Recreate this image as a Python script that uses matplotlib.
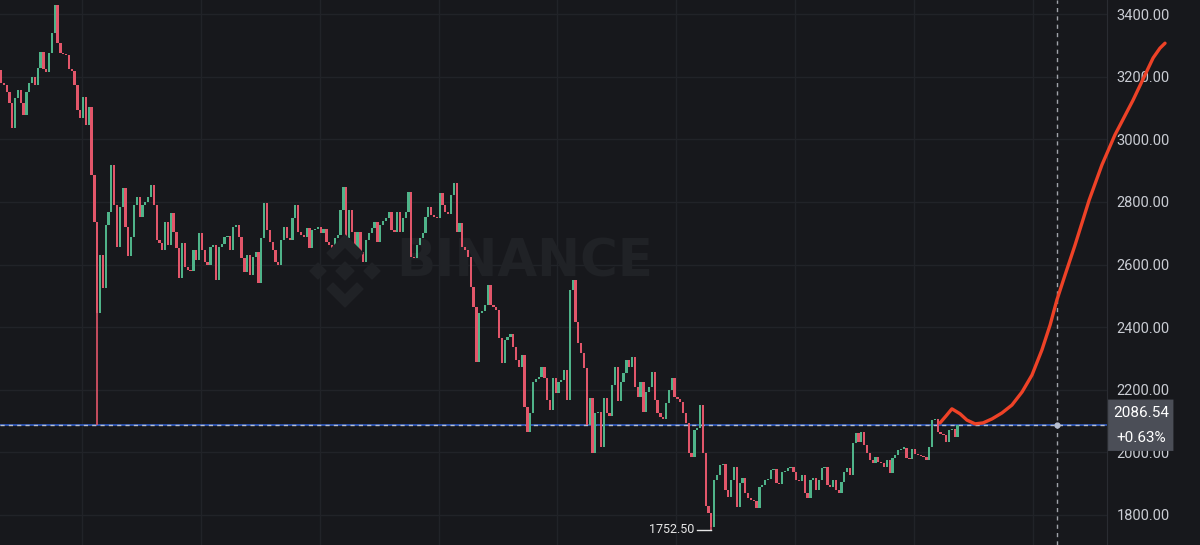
import numpy as np
import matplotlib
matplotlib.use("Agg")
import matplotlib.pyplot as plt
from matplotlib.patches import Polygon, FancyBboxPatch
from matplotlib.transforms import blended_transform_factory

# candle closes (open = previous close)
first_open = 3221
closes = [
    3180, 3173, 3151, 3116, 3036, 3132, 3157, 3116, 3077, 3151,
    3180, 3199, 3173, 3228, 3279, 3225, 3215, 3276, 3339, 3429,
    3308, 3276, 3272, 3269, 3225, 3218, 3173, 3093, 3068, 3135,
    3045, 3103, 2886, 2735, 2446,
    2630, 2525, 2726, 2768, 2918, 2790, 2656, 2784, 2844, 2720,
    2627, 2688, 2790, 2816, 2752, 2790, 2800, 2816, 2854, 2790,
    2678, 2669, 2646, 2736, 2662, 2765, 2704, 2653, 2557, 2669,
    2592, 2583, 2578, 2646, 2614, 2700, 2646, 2608, 2600, 2656,
    2662, 2551, 2656, 2665, 2688, 2692, 2646, 2720, 2725, 2688,
    2620, 2576, 2630, 2567, 2624, 2640, 2541, 2685, 2797, 2710,
    2672, 2646, 2608, 2600, 2678, 2720, 2685, 2678, 2749, 2790,
    2704, 2694, 2688, 2717, 2653, 2710, 2714, 2720, 2700, 2714,
    2672,
    2662, 2646, 2685, 2694, 2774, 2848, 2685, 2774, 2704, 2653,
    2704, 2640, 2608, 2678, 2700, 2717, 2736, 2672, 2726, 2740,
    2749, 2768, 2710, 2704, 2768, 2704, 2749, 2768, 2832, 2624,
    2620, 2662, 2685, 2700, 2752, 2784, 2758, 2752, 2749, 2828,
    2790, 2768, 2760, 2822, 2860, 2704, 2733, 2656, 2646, 2624,
    2528, 2464, 2290, 2445, 2452, 2471, 2535, 2471, 2464, 2455,
    2365, 2285, 2360, 2370, 2378, 2337, 2295, 2273, 2311, 2145,
    2065, 2126, 2225, 2235, 2240, 2273, 2237, 2167, 2135, 2237,
    2190, 2225, 2230, 2263, 2167, 2519, 2551, 2416, 2349, 2317,
    2269, 2087, 2174, 1998, 2126, 2130, 2017, 2174, 2126, 2115,
    2215, 2273, 2164, 2225, 2253, 2295, 2273, 2305, 2209, 2177,
    2225, 2129, 2193, 2209, 2257, 2167, 2126, 2113, 2108, 2157,
    2199, 2237, 2177, 2170, 2160, 2126, 2094, 1998, 1985, 2071,
    2078, 2151,
    1998, 1830, 1806, 1760, 1912, 1928, 1958, 1962, 1880, 1857,
    1912, 1953, 1826, 1902, 1918, 1870, 1854, 1848, 1845, 1822,
    1889, 1896, 1912, 1916, 1944, 1948, 1902, 1898, 1937, 1940,
    1950, 1953, 1937, 1912, 1908, 1928, 1870, 1854, 1912, 1918,
    1880, 1912, 1950, 1953, 1896, 1889, 1912, 1880, 1870, 1905,
    1937, 1950, 1928, 2030, 2062, 2033, 2065, 2024, 1998, 1976,
    1966, 1985, 1969, 1965, 1953, 1976, 1934, 1982, 1992, 2008,
    2012, 2015, 1982, 1978, 2010, 1995, 1992, 1988, 1985, 1976,
    2017, 2103, 2106, 2065, 2060, 2055, 2033, 2071, 2075, 2049,
    2086.54,
]

# long lower wicks
wick_idx = [34, 251]
wick_low = [2086, 1752.50]

last_price = 2086.54
last_change = "+0.63%"
y_ticks = [1800, 2000, 2200, 2400, 2600, 2800, 3000, 3200, 3400]

# hand drawn projection (candle index, price)
proj_x = [331.8, 333.9, 336.0, 338.9, 341.3, 344.2, 347.0, 350.2, 353.7, 357.2,
          360.8, 364.3, 367.8, 370.7, 373.1, 376.0, 379.5, 384.5, 389.0, 393.6,
          400.0, 404.2, 407.1, 409.5, 411.3]
proj_y = [2094, 2116, 2139, 2123, 2103, 2091, 2094, 2107, 2126, 2151,
          2193, 2247, 2327, 2407, 2487, 2567, 2662, 2806, 2918, 3014,
          3125, 3205, 3260, 3291, 3307]

BG = "#17181c"
GRID = "#212328"
UP = "#4fb389"
DOWN = "#e2566a"
TXT = "#c9ccd3"
WM = "#202226"

closes = np.array(closes, dtype=float)
opens = np.concatenate([[first_open], closes[:-1]])
idx = np.arange(len(closes))
up = closes >= opens

fig = plt.figure(figsize=(12, 5.45), dpi=100, facecolor=BG)
ax = fig.add_axes([0, 0, 1107 / 1200, 1])
ax.set_facecolor(BG)

# grid
for t in y_ticks:
    ax.axhline(t, color=GRID, lw=1, zorder=0)
for gx in np.arange(28.6, 391, 42):
    ax.axvline(gx, color=GRID, lw=1, zorder=0)

# candles
body = np.abs(closes - opens)
body = np.maximum(body, 4)
bottom = np.minimum(opens, closes)
ax.bar(idx, body, bottom=bottom, width=0.8,
       color=np.where(up, UP, DOWN), zorder=3, linewidth=0)
for i, lo in zip(wick_idx, wick_low):
    c = UP if up[i] else DOWN
    ax.vlines(i, lo, bottom[i], color=c, lw=1.2, zorder=3)

# min label
i_min = wick_idx[1]
ax.plot([i_min - 5.0, i_min - 0.3], [wick_low[1]] * 2, color="#e6e6e6", lw=1, zorder=4)
ax.text(i_min - 6.0, wick_low[1], f"{wick_low[1]:.2f}", color="#e6e6e6",
        fontsize=9, ha="right", va="center", family="Roboto", zorder=4)

# price line + crosshair
ax.axhline(last_price, color="#2f58b8", lw=1.3, zorder=2)
ax.axhline(last_price, color="#b7bfd0", lw=1, ls=(0, (3, 3)), zorder=2)
cross_x = 373.1
ax.axvline(cross_x, color="#a0a3aa", lw=1, ls=(0, (3, 3)), zorder=2)
ax.plot([cross_x], [last_price], "o", color="#b7bfd0", ms=3.5, zorder=4)

# projection curve
ax.plot(proj_x, proj_y, color="#ee4227", lw=2.4, solid_capstyle="round",
        clip_on=False, zorder=6)

# watermark
ax.text(0.474, 0.519, "BINANCE", transform=ax.transAxes, fontsize=37,
        fontweight="bold", color=WM, ha="center", va="center",
        family="DejaVu Sans", zorder=1)
logo_c = (345, 545 - 271)
shapes = [
    [(0, 9), (9, 0), (0, -9), (-9, 0)],
    [(-27, 8), (-19, 0), (-27, -8), (-35, 0)],
    [(27, 8), (35, 0), (27, -8), (19, 0)],
    [(0, 36), (18, 18), (12, 12), (0, 24), (-12, 12), (-18, 18)],
    [(0, -36), (18, -18), (12, -12), (0, -24), (-12, -12), (-18, -18)],
]
for pts in shapes:
    poly = [((logo_c[0] + px) / 100, (logo_c[1] + py) / 100) for px, py in pts]
    fig.patches.append(Polygon(poly, closed=True, color=WM,
                               transform=fig.dpi_scale_trans, zorder=1))

# axes look
ax.set_xlim(-0.35, 390.8)
ax.set_ylim(1704, 3445)
for s in ["top", "left", "bottom"]:
    ax.spines[s].set_visible(False)
ax.spines["right"].set_color("#2a2c32")
ax.set_xticks([])
ax.yaxis.tick_right()
ax.set_yticks(y_ticks)
ax.set_yticklabels([f"{t:.2f}" for t in y_ticks])
ax.tick_params(axis="y", length=0, pad=7, labelsize=10.5, labelcolor=TXT)
for lab in ax.get_yticklabels():
    lab.set_family("Roboto")

# last price box
tr = blended_transform_factory(ax.transAxes, ax.transData)
box = FancyBboxPatch((1.001, last_price - 82), 0.059, 164,
                     boxstyle="round,pad=0,rounding_size=0.004",
                     transform=tr, facecolor="#4b4e57", edgecolor="none",
                     clip_on=False, zorder=7)
ax.add_patch(box)
ax.text(1.031, last_price + 39, f"{last_price:.2f}", transform=tr, color="white",
        fontsize=11, ha="center", va="center", family="Roboto", zorder=8,
        clip_on=False)
ax.text(1.031, last_price - 42, last_change, transform=tr, color="white",
        fontsize=11, ha="center", va="center", family="Roboto", zorder=8,
        clip_on=False)

fig.savefig("out.png", dpi=100, facecolor=BG)
